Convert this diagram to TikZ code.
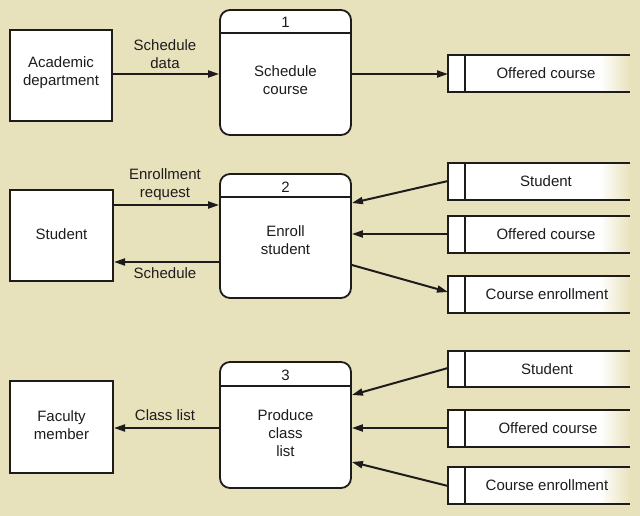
\documentclass[tikz,border=0pt]{standalone}
\usepackage{fontspec}
\setmainfont{Liberation Sans}
\usetikzlibrary{arrows.meta}
\definecolor{bg}{RGB}{232,226,188}
\definecolor{ink}{RGB}{30,27,28}
\tikzset{
  txt/.style={text=ink,font=\fontsize{15}{18}\selectfont,align=center,inner sep=0pt},
  entity/.style={draw=ink,line width=2pt,fill=white,inner sep=0pt},
  proc/.style={draw=ink,line width=1.8pt,fill=white,rounded corners=10pt,inner sep=0pt,minimum width=131pt},
  line/.style={draw=ink,line width=1.8pt},
  arr/.style={draw=ink,line width=2pt,-{Triangle[length=11pt,width=7pt]}},
  anchorbox/.style={inner sep=0pt,minimum width=182pt,anchor=west}
}
\newcommand\dstore[5]{%
  \fill[white] (448,#2) rectangle (600,#3);
  \shade[left color=white,right color=bg] (599.5,#2) rectangle (630,#3);
  \draw[line] (630,#2) -- (448,#2) -- (448,#3) -- (630,#3);
  \draw[line] (465,#2) -- (465,#3);
  \node[anchorbox,minimum height={#3-#2}] (#1) at (448,{(#2+#3)/2}) {};
  \node[txt] (#1-t) at (#5,{(#2+#3)/2}) {#4};
}
\begin{document}
\begin{tikzpicture}[x=1pt,y=-1pt]
\fill[bg] (0,0) rectangle (640,516);
\useasboundingbox (0,0) rectangle (640,516);

% ---- Row 1
\node[entity,minimum width=102pt,minimum height=91pt] (acad) at (61,75.5) {};
\node[txt] (acad-t) at (61,73) {Academic\\department};
\node[proc,minimum height=125pt] (p1) at (285.5,72.5) {};
\draw[line] (p1.west |- 0,33) -- (p1.east |- 0,33);
\node[txt] (p1-n) at (285.5,22) {1};
\node[txt] (p1-t) at (285.5,80) {Schedule\\course};
\dstore{os1}{55}{92}{Offered course}{546}
\draw[arr] (acad.east |- 0,74) -- (p1.west |- 0,74);
\node[txt] (l1) at (165,54) {Schedule\\data};
\draw[arr] (p1.east |- 0,74) -- (os1.west |- 0,74);

% ---- Row 2
\node[entity,minimum width=103pt,minimum height=91pt] (stu) at (61.5,235.5) {};
\node[txt] (stu-t) at (61.5,234) {Student};
\node[proc,minimum height=124pt] (p2) at (285.5,236) {};
\draw[line] (p2.west |- 0,197) -- (p2.east |- 0,197);
\node[txt] (p2-n) at (285.5,187) {2};
\node[txt] (p2-t) at (285.5,240) {Enroll\\student};
\dstore{st2}{163}{200}{Student}{546}
\dstore{oc2}{216}{253}{Offered course}{546}
\dstore{ce2}{276}{313}{Course enrollment}{547}
\draw[arr] (stu.east |- 0,205) -- (p2.west |- 0,205);
\node[txt] (l2) at (165,185) {Enrollment\\request};
\draw[arr] (p2.west |- 0,262) -- (stu.east |- 0,262);
\node[txt] (l3) at (165,273) {Schedule};
\draw[arr] (st2.west |- 0,181) -- (p2.east |- 0,203);
\draw[arr] (oc2.west |- 0,234) -- (p2.east |- 0,234);
\draw[arr] (p2.east |- 0,265) -- (ce2.west |- 0,292);

% ---- Row 3
\node[entity,minimum width=103pt,minimum height=92pt] (fac) at (61.5,427) {};
\node[txt] (fac-t) at (61.5,425) {Faculty\\member};
\node[proc,minimum height=126pt] (p3) at (285.5,425) {};
\draw[line] (p3.west |- 0,386) -- (p3.east |- 0,386);
\node[txt] (p3-n) at (285.5,375) {3};
\node[txt] (p3-t) at (285.5,433) {Produce\\class\\list};
\dstore{st3}{351}{387}{Student}{547}
\dstore{oc3}{410}{447}{Offered course}{548}
\dstore{ce3}{467}{504}{Course enrollment}{547}
\draw[arr] (p3.west |- 0,428) -- (fac.east |- 0,428);
\node[txt] (l4) at (165,415) {Class list};
\draw[arr] (st3.west |- 0,368) -- (p3.east |- 0,395);
\draw[arr] (oc3.west |- 0,428) -- (p3.east |- 0,428);
\draw[arr] (ce3.west |- 0,486) -- (p3.east |- 0,462);
\end{tikzpicture}
\end{document}
